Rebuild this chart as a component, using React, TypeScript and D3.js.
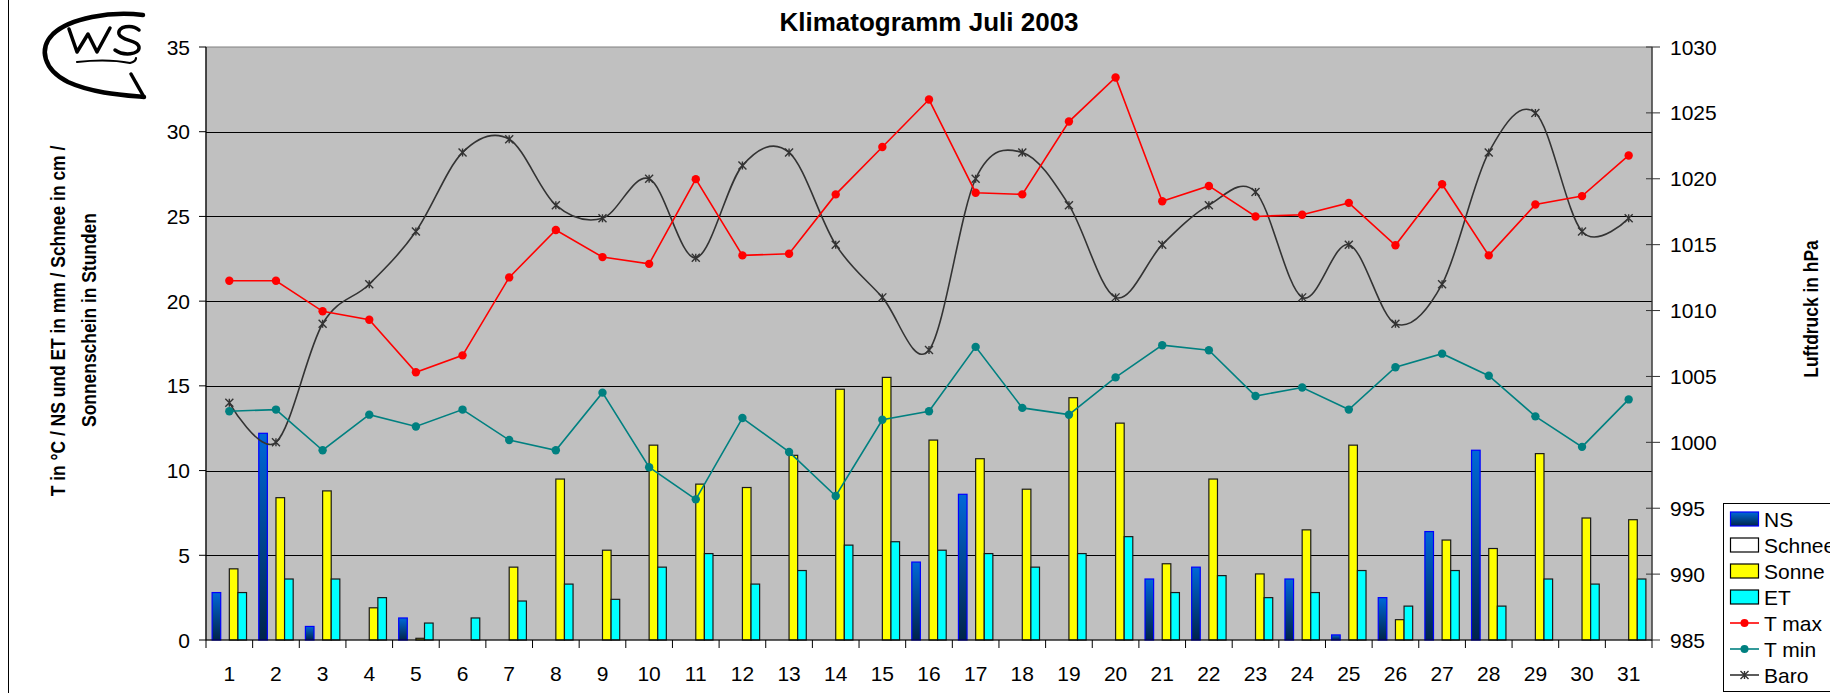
import { useEffect, useRef } from "react";
import * as d3 from "d3";

// Tage im Juli 2003
const days = ["1", "2", "3", "4", "5", "6", "7", "8", "9", "10", "11", "12", "13", "14", "15", "16", "17", "18", "19", "20", "21", "22", "23", "24", "25", "26", "27", "28", "29", "30", "31"];

// Niederschlag in mm
const ns = [2.8, 12.2, 0.8, 0, 1.3, 0, 0, 0, 0, 0, 0, 0, 0, 0, 0, 4.6, 8.6, 0, 0, 0, 3.6, 4.3, 0, 3.6, 0.3, 2.5, 6.4, 11.2, 0, 0, 0];
// Schnee in cm
const schnee = [0, 0, 0, 0, 0, 0, 0, 0, 0, 0, 0, 0, 0, 0, 0, 0, 0, 0, 0, 0, 0, 0, 0, 0, 0, 0, 0, 0, 0, 0, 0];
// Sonnenschein in Stunden
const sonne = [4.2, 8.4, 8.8, 1.9, 0.1, 0, 4.3, 9.5, 5.3, 11.5, 9.2, 9.0, 10.9, 14.8, 15.5, 11.8, 10.7, 8.9, 14.3, 12.8, 4.5, 9.5, 3.9, 6.5, 11.5, 1.2, 5.9, 5.4, 11.0, 7.2, 7.1];
// Evapotranspiration in mm
const et = [2.8, 3.6, 3.6, 2.5, 1.0, 1.3, 2.3, 3.3, 2.4, 4.3, 5.1, 3.3, 4.1, 5.6, 5.8, 5.3, 5.1, 4.3, 5.1, 6.1, 2.8, 3.8, 2.5, 2.8, 4.1, 2.0, 4.1, 2.0, 3.6, 3.3, 3.6];
// Temperaturen in °C
const tmax = [21.2, 21.2, 19.4, 18.9, 15.8, 16.8, 21.4, 24.2, 22.6, 22.2, 27.2, 22.7, 22.8, 26.3, 29.1, 31.9, 26.4, 26.3, 30.6, 33.2, 25.9, 26.8, 25.0, 25.1, 25.8, 23.3, 26.9, 22.7, 25.7, 26.2, 28.6];
const tmin = [13.5, 13.6, 11.2, 13.3, 12.6, 13.6, 11.8, 11.2, 14.6, 10.2, 8.3, 13.1, 11.1, 8.5, 13.0, 13.5, 17.3, 13.7, 13.3, 15.5, 17.4, 17.1, 14.4, 14.9, 13.6, 16.1, 16.9, 15.6, 13.2, 11.4, 14.2];
// Luftdruck in hPa
const baro = [1003, 1000, 1009, 1012, 1016, 1022, 1023, 1018, 1017, 1020, 1014, 1021, 1022, 1015, 1011, 1007, 1020, 1022, 1018, 1011, 1015, 1018, 1019, 1011, 1015, 1009, 1012, 1022, 1025, 1016, 1017];

const leftTicks = [0, 5, 10, 15, 20, 25, 30, 35];
const rightTicks = [985, 990, 995, 1000, 1005, 1010, 1015, 1020, 1025, 1030];
const barSeries = ["NS", "Schnee", "Sonne", "ET"];

const FONT = "'Liberation Sans', Arial, sans-serif";

export default function App() {
  const ref = useRef<SVGSVGElement>(null);

  useEffect(() => {
    const svg = d3.select(ref.current);
    svg.selectAll("*").remove();

    const plot = { left: 206, right: 1652, top: 47, bottom: 640 };

    const x = d3.scaleBand().domain(days).range([plot.left, plot.right]).padding(0);
    const x1 = d3.scaleBand().domain(barSeries).range([0, x.bandwidth()]).paddingInner(0).paddingOuter(0.71);
    const yL = d3.scaleLinear().domain([0, 35]).range([plot.bottom, plot.top]);
    const yR = d3.scaleLinear().domain([985, 1030]).range([plot.bottom, plot.top]);

    const defs = svg.append("defs");
    const grad = defs.append("linearGradient").attr("id", "nsGrad").attr("x1", 0).attr("y1", 0).attr("x2", 0).attr("y2", 1);
    grad.append("stop").attr("offset", "0%").attr("stop-color", "#0068d8");
    grad.append("stop").attr("offset", "100%").attr("stop-color", "#00244a");

    // Rahmen links
    svg.append("line").attr("x1", 8.5).attr("x2", 8.5).attr("y1", 0).attr("y2", 693).attr("stroke", "#000");

    // Plotfläche
    svg.append("rect")
      .attr("x", plot.left).attr("y", plot.top)
      .attr("width", plot.right - plot.left).attr("height", plot.bottom - plot.top)
      .attr("fill", "#c0c0c0").attr("stroke", "#808080");

    // Gitternetz
    svg.append("g").selectAll("line")
      .data(leftTicks.filter((t) => t > 0 && t < 35))
      .enter().append("line")
      .attr("x1", plot.left).attr("x2", plot.right)
      .attr("y1", (d) => Math.round(yL(d)) + 0.5).attr("y2", (d) => Math.round(yL(d)) + 0.5)
      .attr("stroke", "#000").attr("stroke-width", 1.2);

    // Balken
    const bars = [
      { key: "NS", values: ns, fill: "url(#nsGrad)", stroke: "#0000ff" },
      { key: "Schnee", values: schnee, fill: "#ffffff", stroke: "#000" },
      { key: "Sonne", values: sonne, fill: "#ffff00", stroke: "#1a1a1a" },
      { key: "ET", values: et, fill: "#00ffff", stroke: "#1a1a1a" },
    ];
    bars.forEach((s) => {
      svg.append("g").selectAll("rect")
        .data(s.values.map((v, i) => ({ day: days[i], v })).filter((d) => d.v > 0))
        .enter().append("rect")
        .attr("x", (d) => x(d.day)! + x1(s.key)!)
        .attr("y", (d) => yL(d.v))
        .attr("width", x1.bandwidth())
        .attr("height", (d) => plot.bottom - yL(d.v))
        .attr("fill", s.fill)
        .attr("stroke", s.stroke)
        .attr("stroke-width", 1.2);
    });

    const cx = (i: number) => x(days[i])! + x.bandwidth() / 2;

    // Luftdruck (geglättet)
    const baroLine = d3.line<number>().x((_, i) => cx(i)).y((d) => yR(d)).curve(d3.curveCatmullRom.alpha(0));
    svg.append("path").attr("d", baroLine(baro)).attr("fill", "none").attr("stroke", "#333").attr("stroke-width", 1.6);
    const star = (g: d3.Selection<SVGGElement, unknown, null, undefined>, px: number, py: number, r: number) => {
      g.append("path")
        .attr("d", `M${px - r},${py - r}L${px + r},${py + r}M${px - r},${py + r}L${px + r},${py - r}M${px},${py - r}L${px},${py + r}`)
        .attr("stroke", "#333").attr("stroke-width", 1.4).attr("fill", "none");
    };
    const starG = svg.append("g");
    baro.forEach((v, i) => star(starG as any, cx(i), yR(v), 4));

    // Temperaturen
    const tLine = d3.line<number>().x((_, i) => cx(i)).y((d) => yL(d));
    [
      { values: tmax, color: "#ff0000" },
      { values: tmin, color: "#008080" },
    ].forEach((s) => {
      svg.append("path").attr("d", tLine(s.values)).attr("fill", "none").attr("stroke", s.color).attr("stroke-width", 1.6);
      svg.append("g").selectAll("circle")
        .data(s.values).enter().append("circle")
        .attr("cx", (_, i) => cx(i)).attr("cy", (d) => yL(d)).attr("r", 4.2)
        .attr("fill", s.color);
    });

    // Achsen
    svg.append("line").attr("x1", plot.left).attr("x2", plot.left).attr("y1", plot.top).attr("y2", plot.bottom).attr("stroke", "#000").attr("stroke-width", 1.2);
    svg.append("line").attr("x1", plot.right).attr("x2", plot.right).attr("y1", plot.top).attr("y2", plot.bottom).attr("stroke", "#333").attr("stroke-width", 1.2);
    svg.append("line").attr("x1", plot.left).attr("x2", plot.right).attr("y1", plot.bottom).attr("y2", plot.bottom).attr("stroke", "#000").attr("stroke-width", 1.2);

    const leftAxis = svg.append("g");
    leftAxis.selectAll("line").data(leftTicks).enter().append("line")
      .attr("x1", plot.left - 7).attr("x2", plot.left).attr("y1", (d) => yL(d)).attr("y2", (d) => yL(d)).attr("stroke", "#000");
    leftAxis.selectAll("text").data(leftTicks).enter().append("text")
      .attr("x", 190).attr("y", (d) => yL(d)).attr("dy", "0.36em").attr("text-anchor", "end")
      .style("font", `21px ${FONT}`).text((d) => d);

    const rightAxis = svg.append("g");
    rightAxis.selectAll("line").data(rightTicks).enter().append("line")
      .attr("x1", plot.right - 6).attr("x2", plot.right + 8).attr("y1", (d) => yR(d)).attr("y2", (d) => yR(d)).attr("stroke", "#333");
    rightAxis.selectAll("text").data(rightTicks).enter().append("text")
      .attr("x", 1670).attr("y", (d) => yR(d)).attr("dy", "0.36em")
      .style("font", `21px ${FONT}`).text((d) => d);

    const bottomAxis = svg.append("g");
    bottomAxis.selectAll("line").data(d3.range(days.length + 1)).enter().append("line")
      .attr("x1", (i) => plot.left + i * x.bandwidth()).attr("x2", (i) => plot.left + i * x.bandwidth())
      .attr("y1", plot.bottom).attr("y2", plot.bottom + 8).attr("stroke", "#000");
    bottomAxis.selectAll("text").data(days).enter().append("text")
      .attr("x", (d) => x(d)! + x.bandwidth() / 2).attr("y", 681).attr("text-anchor", "middle")
      .style("font", `21px ${FONT}`).text((d) => d);

    // Titel
    svg.append("text").attr("x", (plot.left + plot.right) / 2).attr("y", 31).attr("text-anchor", "middle")
      .style("font", `bold 26px ${FONT}`).text("Klimatogramm Juli 2003");

    // Achsentitel: Schrift etwas gestaucht wie im Original
    const axisTitle = (tx: number, ty: number, label: string) =>
      svg.append("text").attr("transform", `translate(${tx},${ty}) rotate(-90) scale(0.83,1)`).attr("text-anchor", "middle")
        .style("font", `bold 21px ${FONT}`).text(label);
    axisTitle(65, 321, "T in °C / NS und ET in mm / Schnee in cm /");
    axisTitle(96, 320, "Sonnenschein in Stunden");
    axisTitle(1818, 309, "Luftdruck in hPa");

    // Logo
    const logo = svg.append("g").attr("fill", "none").attr("stroke", "#000").attr("stroke-linecap", "round").attr("stroke-linejoin", "round");
    logo.append("path").attr("d", "M143,15 C110,11 70,18 53,34 C38,49 44,70 68,82 C92,93 122,95 144,97").attr("stroke-width", 4.5);
    logo.append("path").attr("d", "M144,97 L131,74").attr("stroke-width", 3.5);
    logo.append("path").attr("d", "M69,29 L77,52 L88,34 L97,52 L110,28").attr("stroke-width", 3.5);
    logo.append("path").attr("d", "M139,30 C132,24 117,26 119,34 C121,41 138,40 139,47 C140,55 123,56 115,50").attr("stroke-width", 3.5);
    logo.append("path").attr("d", "M77,62 C95,60 115,60 130,63 C134,62 136,60 136,58").attr("stroke-width", 2.2);

    // Legende
    svg.append("rect").attr("x", 1723.5).attr("y", 503.5).attr("width", 120).attr("height", 188)
      .attr("fill", "#fff").attr("stroke", "#000");
    const legendItems = [
      { label: "NS", type: "bar", fill: "url(#nsGrad)", stroke: "#0000ff" },
      { label: "Schnee", type: "bar", fill: "#ffffff", stroke: "#000" },
      { label: "Sonne", type: "bar", fill: "#ffff00", stroke: "#000" },
      { label: "ET", type: "bar", fill: "#00ffff", stroke: "#000" },
      { label: "T max", type: "dot", fill: "#ff0000", stroke: "#ff0000" },
      { label: "T min", type: "dot", fill: "#008080", stroke: "#008080" },
      { label: "Baro", type: "star", fill: "#333", stroke: "#333" },
    ];
    const ly = d3.scalePoint().domain(legendItems.map((d) => d.label)).range([519, 675]);
    legendItems.forEach((it) => {
      const yy = ly(it.label)!;
      if (it.type === "bar") {
        svg.append("rect").attr("x", 1730.5).attr("y", yy - 7).attr("width", 28).attr("height", 14)
          .attr("fill", it.fill).attr("stroke", it.stroke).attr("stroke-width", 1.2);
      } else {
        svg.append("line").attr("x1", 1730).attr("x2", 1759).attr("y1", yy).attr("y2", yy).attr("stroke", it.stroke).attr("stroke-width", 1.6);
        if (it.type === "dot") {
          svg.append("circle").attr("cx", 1744.5).attr("cy", yy).attr("r", 4).attr("fill", it.fill);
        } else {
          star(svg.append("g") as any, 1744.5, yy, 4);
        }
      }
      svg.append("text").attr("x", 1764).attr("y", yy).attr("dy", "0.36em")
        .style("font", `21px ${FONT}`).text(it.label);
    });
  }, []);

  return (
    <svg
      ref={ref}
      width={1830}
      height={693}
      style={{ position: "absolute", left: 0, top: 0, display: "block", background: "#fff" }}
    />
  );
}
